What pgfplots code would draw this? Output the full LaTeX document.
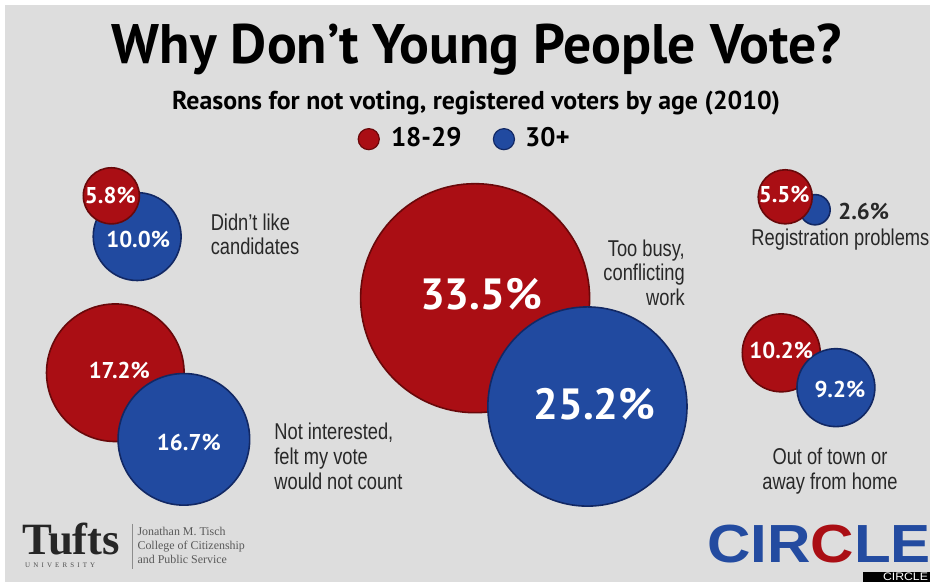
\documentclass[border=0pt]{standalone}
\usepackage{fontspec}
\usepackage{pgfplots}
\usepackage{pgfplotstable}
\pgfplotsset{compat=1.18}
\setmainfont{PT Sans}
\newfontfamily\condfont[FakeStretch=0.8]{Liberation Sans}
\newfontfamily\seriffont{Liberation Serif}
\newfontfamily\unifont[LetterSpace=45]{Liberation Serif}
\newfontfamily\logofont[FakeStretch=1.12]{Liberation Sans}

\definecolor{bg}{RGB}{221,221,221}
\definecolor{cRed}{RGB}{170,14,20}
\definecolor{cRedDk}{RGB}{105,8,10}
\definecolor{cBlue}{RGB}{33,74,160}
\definecolor{cBlueDk}{RGB}{18,40,100}
\definecolor{txt}{RGB}{40,40,40}
\definecolor{logoBlue}{RGB}{35,75,160}

% bubbles in pixel units (x, y from top, radius), in drawing order
\pgfplotstableread{
x   y   r   c
138 238 45  b
112 197 29  r
116 375 70  r
185 442 67  b
478 300 116 r
591 409 101 b
820 211 16  b
790 198 28  r
786 355 40  r
841 390 40  b
}\bubbles

\begin{document}
\begin{tikzpicture}
\begin{axis}[
    width=468pt, height=293pt, scale only axis,
    xmin=0, xmax=936, ymin=0, ymax=586, y dir=reverse,
    hide axis, clip=false, set layers,
  ]
  \begin{pgfonlayer}{axis background}
    \fill[white] (axis cs:0,0) rectangle (axis cs:936,586);
    \fill[bg] (axis cs:5,5) rectangle (axis cs:936,586);
  \end{pgfonlayer}

  \addplot[scatter, only marks, scatter src=explicit symbolic,
    scatter/classes={
      r={mark=*, fill=cRed, draw=cRedDk, line width=0.8pt},
      b={mark=*, fill=cBlue, draw=cBlueDk, line width=0.8pt}},
    visualization depends on={0.5*\thisrow{r}-0.4 \as \rad},
    scatter/@pre marker code/.append style={/tikz/mark size=\rad}]
    table[x=x, y=y, meta=c] {\bubbles};

  % legend dots
  \addplot[only marks, mark=*, mark size=5.3pt, fill=cRed, draw=cRedDk, line width=0.6pt]
    coordinates {(371,140)};
  \addplot[only marks, mark=*, mark size=5.3pt, fill=cBlue, draw=cBlueDk, line width=0.6pt]
    coordinates {(507,140)};

  \begin{pgfonlayer}{axis foreground}
  % titles
  \node[anchor=base, font=\fontsize{28}{32}\selectfont\bfseries] at (axis cs:480,64)
    {Why Don’t Young People Vote?};
  \node[anchor=base, font=\fontsize{13}{15}\selectfont\bfseries] at (axis cs:479,110)
    {Reasons for not voting, registered voters by age (2010)};
  \node[anchor=base west, inner sep=0pt, font=\fontsize{13.5}{15}\selectfont\bfseries] at (axis cs:393,147) {18-29};
  \node[anchor=base west, inner sep=0pt, font=\fontsize{13.5}{15}\selectfont\bfseries] at (axis cs:528,147) {30+};

  % values
  \begin{scope}[white, font=\fontsize{11.5}{13}\selectfont\bfseries]
    \node at (axis cs:111,197) {5.8\%};
    \node at (axis cs:139,241) {10.0\%};
    \node at (axis cs:120,373) {17.2\%};
    \node at (axis cs:190,445) {16.7\%};
    \node at (axis cs:789,196) {5.5\%};
    \node at (axis cs:786,353) {10.2\%};
    \node at (axis cs:845,392) {9.2\%};
  \end{scope}
  \node[white, font=\fontsize{22}{25}\selectfont\bfseries] at (axis cs:484,296) {33.5\%};
  \node[white, font=\fontsize{22}{25}\selectfont\bfseries] at (axis cs:598,407) {25.2\%};
  \node[txt, font=\fontsize{11.5}{13}\selectfont\bfseries] at (axis cs:869,213) {2.6\%};

  % category labels
  \begin{scope}[txt, font=\fontsize{11.5}{13}\condfont]
    \node[anchor=base west] at (axis cs:205,232) {Didn’t like};
    \node[anchor=base west] at (axis cs:205,256) {candidates};
    \node[anchor=base east] at (axis cs:696,258) {Too busy,};
    \node[anchor=base east] at (axis cs:696,282) {conflicting};
    \node[anchor=base east] at (axis cs:696,307) {work};
    \node[anchor=base west] at (axis cs:749,247) {Registration problems};
    \node[anchor=base west] at (axis cs:269,442) {Not interested,};
    \node[anchor=base west] at (axis cs:269,467) {felt my vote};
    \node[anchor=base west] at (axis cs:269,492) {would not count};
    \node[anchor=base] at (axis cs:835,467) {Out of town or};
    \node[anchor=base] at (axis cs:835,492) {away from home};
  \end{scope}

  % Tufts logo
  \node[anchor=base west, inner sep=0pt, font=\fontsize{22.5}{26}\seriffont\bfseries, black!85]
    at (axis cs:22,558) {Tufts};
  \node[anchor=base west, inner sep=0pt, font=\fontsize{3.5}{4}\unifont, black!70]
    at (axis cs:25,571) {UNIVERSITY};
  \draw[black!45, line width=0.4pt] (axis cs:133,527) -- (axis cs:133,572);
  \begin{scope}[black!65, font=\fontsize{6}{7}\seriffont]
    \node[anchor=base west, inner sep=0pt] at (axis cs:138,539) {Jonathan M. Tisch};
    \node[anchor=base west, inner sep=0pt] at (axis cs:138,553) {College of Citizenship};
    \node[anchor=base west, inner sep=0pt] at (axis cs:138,567) {and Public Service};
  \end{scope}

  % CIRCLE logo
  \node[anchor=base, inner sep=0pt, font=\fontsize{27}{30}\logofont\bfseries, logoBlue]
    at (axis cs:824,566) {CIR\textcolor{cRed}{C}LE};
  \fill[black] (axis cs:868,575) rectangle (axis cs:936,586);
  \node[anchor=base east, inner sep=0pt, white, font=\fontsize{5.5}{6}\logofont]
    at (axis cs:934,584) {CIRCLE};
  \end{pgfonlayer}
\end{axis}
\end{tikzpicture}
\end{document}
